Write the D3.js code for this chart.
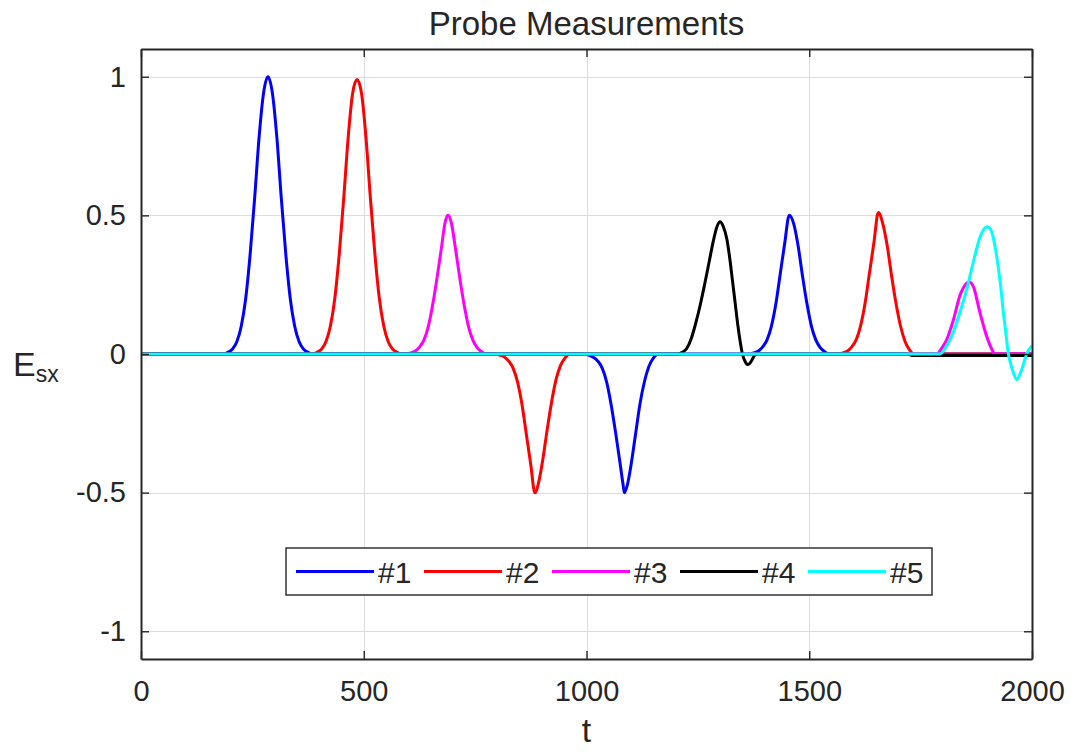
<!DOCTYPE html>
<html>
<head>
<meta charset="utf-8">
<script src="https://cdn.jsdelivr.net/npm/d3@7"></script>
<style>
  html, body { margin: 0; padding: 0; background: #fff; }
  svg { display: block; font-family: "Liberation Sans", Arial, Helvetica, sans-serif; }
</style>
</head>
<body>
<svg id="chart" width="1071" height="753"></svg>
<script>
// ---------------- data ----------------
const title = "Probe Measurements";
const xLabel = "t";
const seriesNames = ["#1", "#2", "#3", "#4", "#5"];
const seriesColors = ["#0000ff", "#ff0000", "#ff00ff", "#000000", "#00ffff"];
const xTicks = [0, 500, 1000, 1500, 2000];
const xTickLabels = ["0", "500", "1000", "1500", "2000"];
const yTicks = [-1, -0.5, 0, 0.5, 1];
const yTickLabels = ["-1", "-0.5", "0", "0.5", "1"];

// probe #1 (blue): [t, E]
const probe1 = [
  [0, 0], [185, 0], [195, 0.006], [205, 0.017], [215, 0.044], [225, 0.10], [235, 0.20],
  [245, 0.36], [255, 0.56], [265, 0.78], [275, 0.94], [285, 1.00], [295, 0.94],
  [305, 0.78], [315, 0.56], [325, 0.36], [335, 0.20], [345, 0.10], [355, 0.044],
  [365, 0.017], [375, 0.006], [385, 0],
  [995, 0], [1005, -0.004], [1015, -0.012], [1025, -0.025], [1035, -0.05], [1045, -0.10],
  [1055, -0.18], [1065, -0.28], [1075, -0.39], [1082, -0.47], [1085, -0.50], [1092, -0.47],
  [1100, -0.40], [1110, -0.29], [1120, -0.18], [1130, -0.10], [1140, -0.045], [1150, -0.015],
  [1160, 0],
  [1365, 0], [1375, 0.004], [1385, 0.01], [1395, 0.025], [1405, 0.05], [1415, 0.10],
  [1425, 0.18], [1435, 0.29], [1445, 0.40], [1455, 0.50], [1465, 0.47], [1475, 0.39],
  [1485, 0.28], [1495, 0.18], [1505, 0.10], [1515, 0.05], [1525, 0.022], [1535, 0.008],
  [1545, 0], [2000, 0]
];

// probe #2 (red)
const probe2 = [
  [0, 0], [385, 0], [395, 0.006], [405, 0.017], [415, 0.044], [425, 0.10], [435, 0.20],
  [445, 0.36], [455, 0.56], [465, 0.78], [475, 0.94], [485, 0.99], [495, 0.94],
  [505, 0.78], [515, 0.56], [525, 0.36], [535, 0.20], [545, 0.10], [555, 0.044],
  [565, 0.017], [575, 0.006], [585, 0],
  [795, 0], [805, -0.004], [815, -0.01], [825, -0.025], [835, -0.05], [845, -0.10],
  [855, -0.18], [865, -0.29], [875, -0.40], [884, -0.50], [893, -0.46], [902, -0.38],
  [912, -0.27], [922, -0.17], [932, -0.09], [942, -0.04], [952, -0.014], [962, 0],
  [1565, 0], [1575, 0.004], [1585, 0.01], [1595, 0.025], [1605, 0.05], [1615, 0.10],
  [1625, 0.18], [1635, 0.29], [1645, 0.40], [1655, 0.51], [1665, 0.47], [1675, 0.39],
  [1685, 0.28], [1695, 0.18], [1705, 0.10], [1715, 0.045], [1725, 0.015], [1735, 0],
  [2000, 0]
];

// probe #3 (magenta)
const probe3 = [
  [0, 0], [595, 0], [605, 0.004], [615, 0.01], [625, 0.025], [635, 0.05], [645, 0.10],
  [655, 0.18], [665, 0.28], [675, 0.39], [682, 0.47], [689, 0.50], [697, 0.47],
  [705, 0.39], [715, 0.28], [725, 0.18], [735, 0.10], [745, 0.05], [755, 0.022],
  [765, 0.008], [775, 0],
  [1786, 0], [1797, 0.02], [1808, 0.05], [1823, 0.12], [1838, 0.21], [1853, 0.255],
  [1859, 0.26], [1868, 0.245], [1883, 0.15], [1898, 0.065], [1909, 0.02], [1917, 0],
  [2000, 0]
];

// probe #4 (black)
const probe4 = [
  [0, 0], [1205, 0], [1215, 0.006], [1225, 0.02], [1235, 0.055], [1245, 0.11],
  [1255, 0.175], [1265, 0.25], [1275, 0.33], [1285, 0.41], [1293, 0.46], [1300, 0.477],
  [1307, 0.46], [1315, 0.415], [1322, 0.34], [1328, 0.26], [1334, 0.18], [1340, 0.10],
  [1345, 0.045], [1350, 0.0], [1356, -0.027], [1363, -0.038], [1370, -0.026],
  [1378, -0.004], [1385, 0], [1720, 0], [1730, -0.005], [2000, -0.005]
];

// probe #5 (cyan)
const probe5 = [
  [0, 0], [1793, 0], [1808, 0.028], [1823, 0.077], [1838, 0.149], [1853, 0.23],
  [1868, 0.33], [1883, 0.42], [1892, 0.45], [1900, 0.459], [1907, 0.45], [1913, 0.42],
  [1919, 0.37], [1924, 0.315], [1930, 0.24], [1935, 0.16], [1941, 0.08], [1947, 0],
  [1952, -0.035], [1958, -0.067], [1966, -0.092], [1971, -0.08], [1977, -0.056],
  [1983, -0.025], [1988, 0], [1993, 0.015], [2000, 0.03]
];

const probes = [probe1, probe2, probe3, probe4, probe5];

// ---------------- drawing ----------------
const svg = d3.select("#chart");
const W = 1071, H = 753;
const m = { left: 141, right: 1032, top: 49, bottom: 659 };
const ink = "#262626";
const fontTick = 29;

const x = d3.scaleLinear().domain([0, 2000]).range([m.left, m.right]);
const y = d3.scaleLinear().domain([-1.1, 1.1]).range([m.bottom, m.top]);

svg.append("rect").attr("width", W).attr("height", H).attr("fill", "#fff");

// grid
const grid = svg.append("g").attr("stroke", "#dcdcdc").attr("stroke-width", 1);
grid.selectAll("line.gx").data(xTicks).join("line")
  .attr("x1", d => Math.round(x(d)) + 0.5).attr("x2", d => Math.round(x(d)) + 0.5)
  .attr("y1", m.top).attr("y2", m.bottom);
grid.selectAll("line.gy").data(yTicks).join("line")
  .attr("y1", d => Math.round(y(d)) + 0.5).attr("y2", d => Math.round(y(d)) + 0.5)
  .attr("x1", m.left).attr("x2", m.right);

// lines
const line = d3.line().x(d => x(d[0])).y(d => y(d[1])).curve(d3.curveMonotoneX);
const plot = svg.append("g");
probes.forEach((p, i) => {
  plot.append("path")
    .datum(p)
    .attr("fill", "none")
    .attr("stroke", seriesColors[i])
    .attr("stroke-width", 3)
    .attr("stroke-linejoin", "round")
    .attr("d", line);
});

// axes (box with inward ticks)
const tickLen = 8;
const axB = svg.append("g").attr("transform", `translate(0,${m.bottom})`)
  .call(d3.axisBottom(x).tickValues(xTicks).tickSizeInner(-tickLen).tickSizeOuter(0)
    .tickPadding(21).tickFormat((d, i) => xTickLabels[i]));
const axT = svg.append("g").attr("transform", `translate(0,${m.top})`)
  .call(d3.axisTop(x).tickValues(xTicks).tickSizeInner(-tickLen).tickSizeOuter(0).tickFormat(""));
const axL = svg.append("g").attr("transform", `translate(${m.left},0)`)
  .call(d3.axisLeft(y).tickValues(yTicks).tickSizeInner(-tickLen).tickSizeOuter(0)
    .tickPadding(15).tickFormat((d, i) => yTickLabels[i]));
const axR = svg.append("g").attr("transform", `translate(${m.right},0)`)
  .call(d3.axisRight(y).tickValues(yTicks).tickSizeInner(-tickLen).tickSizeOuter(0).tickFormat(""));

[axB, axT, axL, axR].forEach(a => {
  a.select(".domain").attr("stroke", ink).attr("stroke-width", 2);
  a.selectAll(".tick line").attr("stroke", ink).attr("stroke-width", 1.4);
  a.selectAll(".tick text").attr("fill", ink).attr("font-size", fontTick)
    .attr("font-family", "'Liberation Sans', Arial, sans-serif");
});

// title
svg.append("text")
  .attr("x", (m.left + m.right) / 2).attr("y", 35)
  .attr("text-anchor", "middle").attr("fill", ink)
  .attr("font-size", 33)
  .text(title);

// x label
svg.append("text")
  .attr("x", (m.left + m.right) / 2).attr("y", 742)
  .attr("text-anchor", "middle").attr("fill", ink)
  .attr("font-size", 34)
  .text(xLabel);

// y label E_sx (horizontal)
const yl = svg.append("text").attr("x", 13).attr("y", 376).attr("fill", ink).attr("font-size", 34);
yl.append("tspan").text("E");
yl.append("tspan").attr("font-size", 23).attr("dy", 6).text("sx");

// legend
const lg = svg.append("g");
const lgX0 = 286, lgY0 = 548, lgW = 646, lgH = 47;
lg.append("rect").attr("x", lgX0).attr("y", lgY0).attr("width", lgW).attr("height", lgH)
  .attr("fill", "#fff").attr("stroke", ink).attr("stroke-width", 1.4);
const itemX = d3.scalePoint().domain(seriesNames).range([296, 808]);
seriesNames.forEach((nm, i) => {
  const gx = itemX(nm);
  const cy = lgY0 + lgH / 2;
  lg.append("line").attr("x1", gx).attr("x2", gx + 78).attr("y1", cy).attr("y2", cy)
    .attr("stroke", seriesColors[i]).attr("stroke-width", 3);
  lg.append("text").attr("x", gx + 82).attr("y", cy + 11).attr("fill", ink)
    .attr("font-size", 30).text(nm);
});
</script>
</body>
</html>
